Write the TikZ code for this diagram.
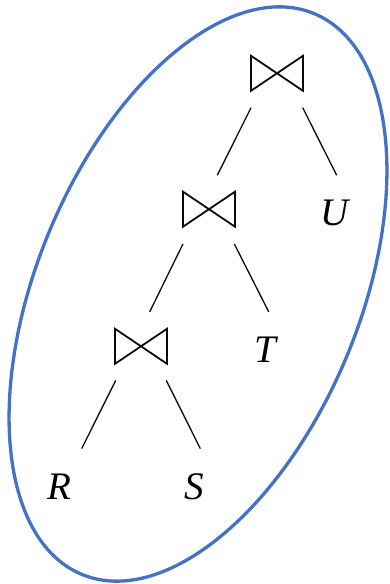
\documentclass[tikz,border=0pt]{standalone}
\usepackage{fontspec}
\setmainfont{Liberation Serif}
\usepackage{tikz}
\definecolor{hullblue}{RGB}{68,114,196}
\definecolor{treeblack}{RGB}{10,10,10}
\usetikzlibrary{calc}

\begin{document}
\begin{tikzpicture}[
  x=1pt,y=1pt,
  joinop/.style={minimum width=56pt,minimum height=39pt,inner sep=0pt,
                 path picture={\draw[treeblack,line width=1.8pt]
                   ([shift={(2pt,-2pt)}]path picture bounding box.north west) --
                   ([shift={(-2pt,2pt)}]path picture bounding box.south east) --
                   ([shift={(-2pt,-2pt)}]path picture bounding box.north east) --
                   ([shift={(2pt,2pt)}]path picture bounding box.south west) -- cycle;}},
  leaf/.style={inner sep=0pt,text=black,font=\fontsize{39}{39}\selectfont\itshape},
  edge/.style={treeblack,line width=1.3pt},
  hull/.style={hullblue,line width=3.3pt},
]
  \useasboundingbox (0,0) rectangle (390,-584);

  % Hull around the plan
  \draw[hull,rotate around={67.5:(198,-294)}] (198,-294) ellipse [x radius=303.5,y radius=161.3];

  % Joins
  \node[joinop] (j1) at (277,-73.3) {};
  \node[joinop] (j2) at (209,-209.2) {};
  \node[joinop] (j3) at (141,-346.3) {};

  % Relations
  \node[leaf] (U) at (335,-213.1) {U};
  \node[leaf] (T) at (265,-350.2) {T};
  \node[leaf] (R) at (59.5,-486.5) {R};
  \node[leaf] (S) at (194,-487) {S};

  % Edges
  \draw[edge] ([shift={(-26,-34.4)}]j1.center) -- ([shift={(8.3,33.9)}]j2.center);
  \draw[edge] ([shift={(25.7,-34.4)}]j1.center) -- ([shift={(1.7,37.8)}]U.center);
  \draw[edge] ([shift={(-26,-34.7)}]j2.center) -- ([shift={(8.7,34.5)}]j3.center);
  \draw[edge] ([shift={(25.3,-34.7)}]j2.center) -- ([shift={(3.7,38.4)}]T.center);
  \draw[edge] ([shift={(-25.3,-34.1)}]j3.center) -- ([shift={(22.2,37.9)}]R.center);
  \draw[edge] ([shift={(25.3,-34.1)}]j3.center) -- ([shift={(6.3,38.4)}]S.center);
\end{tikzpicture}
\end{document}
